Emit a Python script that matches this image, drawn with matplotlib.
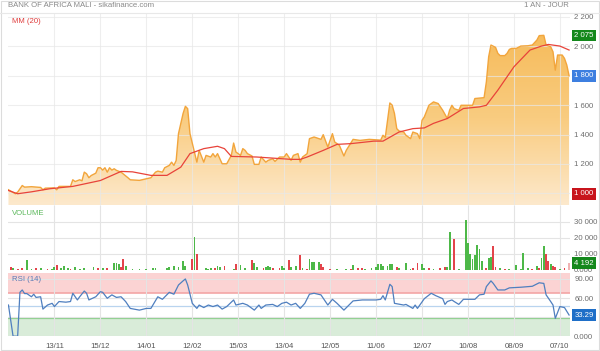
import numpy as np
import matplotlib
matplotlib.use('Agg')
import matplotlib.pyplot as plt
from matplotlib.patches import PathPatch, Rectangle
from matplotlib.colors import LinearSegmentedColormap

plt.rcParams['font.family'] = ['Liberation Sans', 'DejaVu Sans']

# closing price (x = trading day index over one year)
price_day = [0, 3, 4, 6, 7, 10, 14, 15, 16, 20,
             21, 22, 27, 28, 29, 31, 32, 33, 34, 35,
             36, 38, 39, 40, 41, 42, 43, 44, 45, 46,
             47, 49, 52, 53, 57, 60, 62, 64, 65, 67,
             68, 70, 71, 72, 73, 74, 76, 77, 78, 79,
             81, 82, 83, 85, 86, 88, 89, 90, 91, 93,
             95, 97, 98, 99, 101, 102, 103, 104, 106, 107,
             109, 110, 112, 113, 115, 116, 118, 120, 121, 123,
             124, 126, 127, 128, 130, 131, 133, 134, 136, 137,
             139, 141, 142, 144, 146, 147, 150, 153, 157, 162,
             163, 164, 165, 166, 167, 168, 169, 170, 172, 173,
             175, 176, 178, 179, 180, 181, 183, 185, 187, 189,
             191, 192, 193, 194, 196, 197, 202, 203, 207, 208,
             209, 210, 212, 213, 214, 216, 217, 218, 219, 221,
             223, 226, 228, 230, 231, 233, 234, 236, 237, 238,
             239, 241, 242, 243, 244]
price = [1024, 997, 1008, 1053, 1042, 1045, 1040, 1024, 1035, 1037,
         1024, 1047, 1047, 1092, 1080, 1092, 1085, 1144, 1133, 1106,
         1121, 1137, 1174, 1174, 1158, 1174, 1144, 1174, 1158, 1167,
         1156, 1144, 1106, 1092, 1088, 1099, 1106, 1144, 1151, 1144,
         1174, 1190, 1212, 1190, 1224, 1406, 1543, 1592, 1576, 1406,
         1276, 1212, 1292, 1212, 1258, 1247, 1270, 1247, 1270, 1201,
         1201, 1258, 1342, 1281, 1258, 1304, 1292, 1270, 1254, 1197,
         1197, 1247, 1212, 1224, 1235, 1217, 1247, 1247, 1270, 1224,
         1258, 1270, 1212, 1247, 1270, 1372, 1383, 1378, 1367, 1399,
         1315, 1406, 1349, 1327, 1254, 1292, 1367, 1360, 1367, 1362,
         1395, 1380, 1497, 1615, 1600, 1543, 1440, 1424, 1417, 1395,
         1372, 1417, 1406, 1372, 1497, 1520, 1599, 1622, 1611, 1565,
         1509, 1565, 1599, 1576, 1565, 1599, 1599, 1645, 1651, 1758,
         1929, 2009, 1993, 1952, 1937, 1937, 1952, 1979, 1986, 1986,
         2002, 2004, 2009, 2043, 2073, 2075, 2009, 1997, 1963, 1838,
         1941, 1941, 1918, 1873, 1800]

# moving average MM(20)
ma_day = [0, 4, 10, 18, 28, 40, 49, 54, 62, 69,
          75, 79, 85, 91, 94, 97, 108, 123, 127, 130,
          137, 143, 149, 159, 163, 170, 176, 181, 185, 191,
          198, 205, 208, 213, 220, 227, 232, 235, 240, 244]
ma20 = [1019, 997, 1010, 1031, 1047, 1087, 1149, 1146, 1122, 1122,
        1178, 1270, 1304, 1320, 1304, 1251, 1247, 1231, 1231, 1247,
        1292, 1333, 1338, 1355, 1355, 1417, 1440, 1445, 1476, 1509,
        1577, 1588, 1599, 1702, 1861, 1975, 2002, 2013, 2002, 1975]

# volume bars (g = up day, r = down day, p = current day)
vol_day = [1, 2, 4, 6, 8, 10, 12, 14, 17, 19,
           20, 21, 23, 24, 26, 27, 29, 31, 33, 37,
           39, 41, 43, 46, 47, 48, 49, 50, 51, 54,
           57, 60, 63, 64, 69, 70, 72, 74, 76, 77,
           80, 81, 82, 86, 87, 88, 90, 91, 92, 94,
           98, 99, 101, 103, 106, 107, 108, 111, 112, 113,
           114, 115, 118, 119, 120, 122, 123, 125, 127, 128,
           130, 131, 132, 133, 135, 136, 137, 140, 143, 147,
           149, 150, 152, 154, 155, 158, 160, 161, 162, 163,
           165, 166, 167, 169, 170, 173, 175, 176, 178, 180,
           181, 183, 185, 188, 190, 191, 192, 194, 196, 199,
           200, 201, 202, 203, 204, 205, 206, 208, 209, 210,
           211, 212, 214, 216, 218, 221, 223, 224, 226, 228,
           230, 231, 232, 233, 234, 235, 236, 237, 238, 240,
           242, 244]
volume = [1700, 900, 800, 1200, 6400, 700, 900, 1000, 800, 800,
          1500, 3100, 1300, 2200, 1300, 800, 1500, 700, 1000, 1900,
          1200, 1000, 900, 4000, 4000, 3500, 2000, 6900, 2200, 800,
          700, 800, 900, 1200, 1300, 1900, 2300, 2000, 5600, 2500,
          6600, 20400, 10000, 1000, 800, 1200, 1300, 2300, 1500, 2100,
          800, 3800, 2700, 900, 6300, 4200, 1800, 1100, 2000, 2500,
          2000, 1200, 1000, 2500, 1000, 6300, 1500, 2500, 9000, 1000,
          700, 6500, 5200, 5200, 5200, 3800, 1500, 800, 500, 700,
          600, 3000, 1000, 1200, 700, 1000, 2000, 3600, 3600, 2200,
          2400, 3800, 3800, 1500, 1000, 4200, 800, 1000, 4200, 3600,
          1000, 900, 700, 1000, 1500, 2000, 24000, 19000, 800, 31500,
          16500, 10200, 6900, 9000, 15800, 13100, 5800, 900, 7500, 8300,
          14800, 1800, 1000, 600, 800, 3000, 800, 10600, 1000, 600,
          2600, 1200, 7500, 15200, 9600, 5800, 3800, 2400, 1500, 800,
          1000, 4192]
vol_side = ['r', 'g', 'r', 'r', 'g', 'g', 'r', 'g', 'r', 'g',
            'g', 'r', 'g', 'g', 'g', 'r', 'g', 'g', 'g', 'g',
            'r', 'g', 'r', 'g', 'g', 'g', 'r', 'r', 'g', 'g',
            'g', 'g', 'g', 'g', 'g', 'g', 'g', 'g', 'g', 'g',
            'r', 'g', 'r', 'g', 'g', 'g', 'r', 'g', 'g', 'r',
            'g', 'r', 'g', 'g', 'r', 'g', 'g', 'r', 'g', 'g',
            'g', 'r', 'r', 'g', 'g', 'r', 'g', 'g', 'r', 'g',
            'r', 'g', 'g', 'g', 'g', 'r', 'r', 'r', 'g', 'g',
            'r', 'g', 'r', 'r', 'g', 'g', 'g', 'g', 'g', 'g',
            'g', 'g', 'g', 'r', 'g', 'g', 'g', 'r', 'r', 'g',
            'g', 'r', 'g', 'r', 'r', 'g', 'g', 'r', 'g', 'g',
            'g', 'g', 'g', 'g', 'g', 'g', 'g', 'r', 'g', 'g',
            'r', 'r', 'g', 'r', 'g', 'g', 'g', 'g', 'g', 'r',
            'g', 'r', 'g', 'g', 'r', 'r', 'g', 'r', 'r', 'g',
            'r', 'p']

# RSI(14)
rsi_day = [0, 2, 4, 5, 6, 7, 8, 10, 11, 12,
           14, 15, 17, 19, 20, 22, 25, 27, 28, 30,
           31, 33, 34, 35, 38, 40, 41, 43, 45, 47,
           49, 51, 53, 57, 60, 62, 65, 67, 70, 72,
           74, 76, 77, 78, 80, 82, 83, 85, 87, 89,
           91, 93, 95, 98, 99, 102, 104, 107, 109, 110,
           112, 115, 117, 119, 121, 123, 125, 127, 129, 131,
           133, 136, 139, 141, 143, 146, 150, 154, 160, 162,
           163, 164, 166, 167, 168, 172, 173, 176, 177, 178,
           181, 184, 186, 189, 190, 191, 193, 194, 196, 198,
           203, 205, 207, 208, 210, 211, 213, 216, 218, 223,
           228, 231, 233, 234, 236, 237, 238, 240, 242, 244]
rsi = [49, 0, 0, 69, 72.7, 67, 67, 62, 66, 61,
       62, 42.6, 49, 51.7, 46.6, 54.5, 53.5, 54.5, 67.5, 57,
       62, 71, 67.5, 57, 62, 70, 69, 59.6, 65, 61,
       62, 54.5, 43.7, 41, 43.7, 43.7, 62, 58, 69, 66,
       80.5, 87, 90, 80.5, 51.7, 43.7, 49, 45, 49, 46.6,
       49, 42.6, 46.6, 57, 49, 51.7, 49, 41, 49, 43.7,
       49, 50, 46.6, 51.7, 53.5, 49, 51.7, 43.7, 51.7, 66,
       67.5, 65, 49, 58, 51.7, 41, 55.5, 57, 57, 58,
       63.7, 57, 81.6, 78, 51.7, 49, 50, 43.7, 49, 43.7,
       59, 67.5, 63.7, 59, 50, 54.5, 57, 54.5, 50, 58,
       58, 65, 66, 78, 87, 83, 72.7, 72.7, 76, 77,
       78.5, 84, 83, 65, 54.5, 49, 28, 46.6, 45, 33.29]

date_pos = [20, 40, 60, 80, 100, 120, 140, 160, 180, 200, 220, 240]
date_labels = ['13/11', '15/12', '14/01', '12/02', '15/03', '13/04',
               '12/05', '11/06', '12/07', '10/08', '08/09', '07/10']

W, H = 600, 351
XMIN, XMAX = -0.2, 244.4
GRID = '#e4e4e4'
LBL = '#6e6e6e'
FS = 5.6


def place(x0, y0, x1, y1):
    return [x0 / W, 1 - y1 / H, (x1 - x0) / W, (y1 - y0) / H]


def style(ax):
    for s in ax.spines.values():
        s.set_visible(False)
    ax.set_xlim(XMIN, XMAX)
    ax.set_xticks(date_pos)
    ax.grid(True, color=GRID, lw=0.8)
    ax.yaxis.tick_right()
    ax.tick_params(length=0, labelsize=FS, labelcolor=LBL, pad=3)
    ax.tick_params(axis='x', labelbottom=False)


def tag(ax, y, text, color):
    ax.text(1.008, y, text, transform=ax.get_yaxis_transform(), fontsize=FS,
            color='white', va='center', ha='left', clip_on=False, zorder=10,
            bbox=dict(boxstyle='square,pad=0.3', fc=color, ec='none'))


fig = plt.figure(figsize=(W / 100, H / 100), dpi=100)
fig.patches.append(Rectangle((0.002, 0.003), 0.996, 0.994, transform=fig.transFigure,
                             fill=False, ec='#dcdcdc', lw=0.8))
fig.add_artist(plt.Line2D([0, 1], [1 - 12.7 / H] * 2, color='#e8e8e8', lw=0.8))
fig.text(8 / W, 1 - 5.5 / H, 'BANK OF AFRICA MALI - sikafinance.com', fontsize=FS,
         color='#888888', va='center', ha='left')
fig.text(569 / W, 1 - 5.5 / H, '1 AN - JOUR', fontsize=FS, color='#888888',
         va='center', ha='right')

# ---- price panel
ax = fig.add_axes(place(8, 13, 570, 205.5))
style(ax)
ymin, ymax = 917, 2227
poly = ax.fill_between(price_day, price, ymin, color='none', lw=0)
clip = PathPatch(poly.get_paths()[0], transform=ax.transData, fc='none', ec='none')
ax.add_patch(clip)
cmap = LinearSegmentedColormap.from_list('sika', ['#fde9cc', '#f9cc80', '#f6bb5a'])
grad = np.linspace(0, 1, 256).reshape(-1, 1)
im = ax.imshow(grad, extent=[XMIN, XMAX, ymin, 2100], origin='lower', aspect='auto',
               cmap=cmap, zorder=1)
im.set_clip_path(clip)
ax.set_axisbelow(False)
ax.grid(True, color='#e8e8e8', lw=0.8, alpha=0.7, zorder=1.5)
ax.plot(price_day, price, color='#f2a53c', lw=1.0, zorder=3)
ax.plot(ma_day, ma20, color='#e8433a', lw=0.9, zorder=4)
ax.set_xlim(XMIN, XMAX)
ax.set_ylim(ymin, ymax)
ax.set_yticks([1000, 1200, 1400, 1600, 1800, 2000, 2200])
ax.set_yticklabels(['', '1 200', '1 400', '1 600', '', '2 000', '2 200'])
ax.text(0.007, 0.975, 'MM (20)', transform=ax.transAxes, fontsize=FS, color='#e03c3c',
        va='top', ha='left')
tag(ax, max(price), '2 075', '#14881c')
tag(ax, price[-1], '1 800', '#3d7fe0')
tag(ax, min(price), '1 000', '#c8141c')

# ---- volume panel
axv = fig.add_axes(place(8, 206, 570, 269.8))
style(axv)
colors = {'g': '#4db848', 'r': '#e3444b', 'p': '#f0b4b4'}
axv.bar(vol_day, volume, width=0.8, color=[colors[c] for c in vol_side], zorder=3)
axv.set_ylim(0, 40000)
axv.set_yticks([0, 10000, 20000, 30000])
axv.set_yticklabels(['0.000', '10 000', '20 000', '30 000'])
axv.text(0.007, 0.93, 'VOLUME', transform=axv.transAxes, fontsize=FS, color='#5cb85c',
         va='top', ha='left')
tag(axv, volume[-1], '4 192', '#14881c')

# ---- RSI panel
axr = fig.add_axes(place(8, 272.6, 570, 336.2))
style(axr)
axr.axhspan(67.5, 100, color='#fbd3d3', lw=0, zorder=0.5)
axr.axhspan(0, 28, color='#d9ecd9', lw=0, zorder=0.5)
axr.axhline(67.5, color='#f3a6a6', lw=1.2, zorder=1)
axr.axhline(28, color='#8fcf8f', lw=0.9, zorder=1)
axr.axhline(48, color='#b9d4ef', lw=0.9, zorder=1)
axr.plot(rsi_day, rsi, color='#4f7fbf', lw=0.9, zorder=3)
axr.set_ylim(0, 100)
axr.set_yticks([0, 30, 60, 90])
axr.set_yticklabels(['0.000', '', '60.00', '90.00'])
axr.text(0.007, 0.94, 'RSI (14)', transform=axr.transAxes, fontsize=FS, color='#5a7ab5',
         va='top', ha='left')
tag(axr, rsi[-1], '33.29', '#1f6fc8')
axr.tick_params(axis='x', labelbottom=True, labelsize=FS, labelcolor='#555555', pad=5)
axr.set_xticklabels(date_labels)

fig.savefig('out.png', dpi=100)
